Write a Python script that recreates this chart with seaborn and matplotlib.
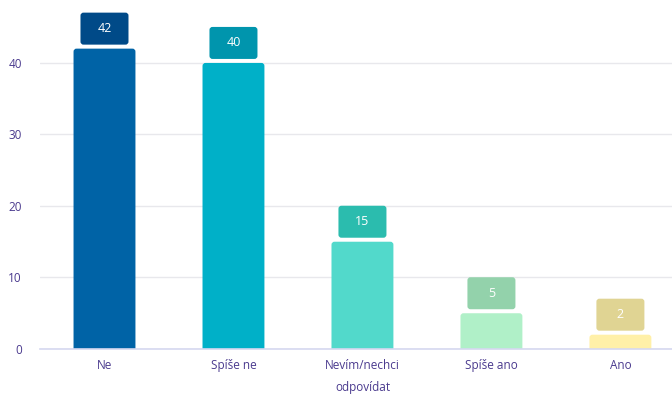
import numpy as np
import pandas as pd
import matplotlib
matplotlib.use("Agg")
import matplotlib.pyplot as plt
import seaborn as sns
from matplotlib.patches import FancyBboxPatch

# data
categories = ["Ne", "Spíše ne", "Nevím/nechci\nodpovídat", "Spíše ano", "Ano"]
values = [42, 40, 15, 5, 2]
bar_colors = ["#0063a6", "#00b0c8", "#52d9cb", "#b0f0c8", "#fff0a8"]
label_colors = ["#004a88", "#0095ad", "#2bbcae", "#93d2ab", "#e0d493"]
yticks = [0, 10, 20, 30, 40]

df = pd.DataFrame({"cat": categories, "val": values})

sns.set_style("white")
plt.rcParams["font.family"] = ["Open Sans", "DejaVu Sans"]

fig = plt.figure(figsize=(6.72, 3.94), dpi=100)
ax = fig.add_axes([40 / 672, 45 / 394, 632 / 672, 349 / 394])

sns.barplot(data=df, x="cat", y="val", hue="cat", palette=bar_colors,
            legend=False, width=0.48, ax=ax)

ax.set_xlim(-0.5, 4.4)
ax.set_ylim(0, 48.8)

# px -> data unit conversions
xpp = 4.9 / 632
ypp = 48.8 / 349
aspect = ypp / xpp

# swap bars for rounded ones
for p, c in zip(ax.patches, bar_colors):
    x, w, h = p.get_x(), p.get_width(), p.get_height()
    p.set_visible(False)
    rb = FancyBboxPatch((x, -1), w, h + 1,
                        boxstyle=f"round,pad=0,rounding_size={3 * xpp}",
                        mutation_aspect=aspect, fc=c, ec="none", zorder=3)
    ax.add_patch(rb)

# value label boxes
bw = 48 * xpp
bh = 32 * ypp
gap = 4 * ypp
for i, (v, c) in enumerate(zip(values, label_colors)):
    y0 = v + gap
    lb = FancyBboxPatch((i - bw / 2, y0), bw, bh,
                        boxstyle=f"round,pad=0,rounding_size={3 * xpp}",
                        mutation_aspect=aspect, fc=c, ec="none", zorder=3)
    ax.add_patch(lb)
    ax.text(i, y0 + bh / 2, str(v), ha="center", va="center",
            color="white", fontsize=9, zorder=4)

ax.set_yticks(yticks)
ax.yaxis.grid(True, color="#e8e8ec", linewidth=1)
ax.set_axisbelow(True)
ax.tick_params(axis="both", length=0, labelsize=8.5, colors="#4a3a8e")
ax.tick_params(axis="y", pad=13)
ax.tick_params(axis="x", pad=7)
for lab in ax.get_xticklabels():
    lab.set_linespacing(1.95)
ax.set_xlabel("")
ax.set_ylabel("")
sns.despine(ax=ax, left=True, right=True, top=True)
ax.spines["bottom"].set_color("#d5d8f0")
ax.spines["bottom"].set_linewidth(1.2)
ax.spines["bottom"].set_zorder(5)

fig.savefig("out.png", dpi=100)
